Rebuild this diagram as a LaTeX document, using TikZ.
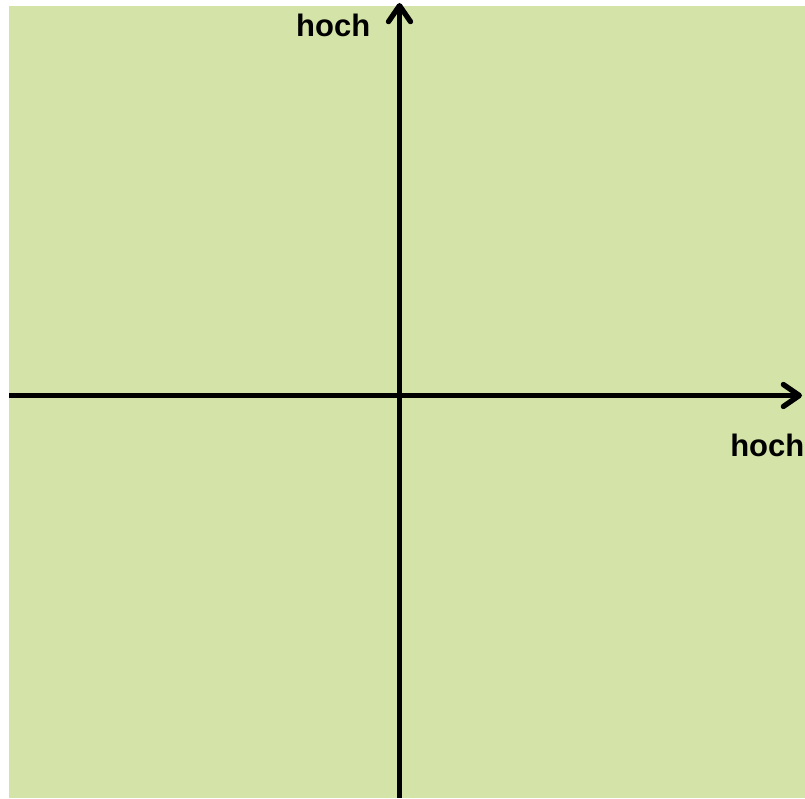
\documentclass[tikz,border=0pt]{standalone}
\usepackage{fontspec}
\setmainfont{Liberation Sans}
\usetikzlibrary{arrows.meta}
\definecolor{bggreen}{RGB}{212,227,167}
\tikzset{
  axis/.style={line width=5.3pt, -{Straight Barb[length=16pt,width=22pt,line cap=round,line join=round]}},
  axislabel/.style={inner sep=0pt, font=\bfseries\fontsize{31pt}{37pt}\selectfont}
}
\begin{document}
\begin{tikzpicture}[x=1pt,y=1pt]
\useasboundingbox (0,0) rectangle (805,798);
\fill[bggreen] (9,0) rectangle (805,792);
\coordinate (xl) at (9,402.5);
\coordinate (xr) at (802,402.5);
\coordinate (yb) at (399.5,0);
\coordinate (yt) at (399.5,795);
\draw[axis] (xl) -- (xr);
\draw[axis] (yb) -- (yt);
\node[axislabel, anchor=base west] (ylab) at (296,761.5) {hoch};
\node[axislabel, anchor=base east] (xlab) at (804.5,341) {hoch};
\end{tikzpicture}
\end{document}
